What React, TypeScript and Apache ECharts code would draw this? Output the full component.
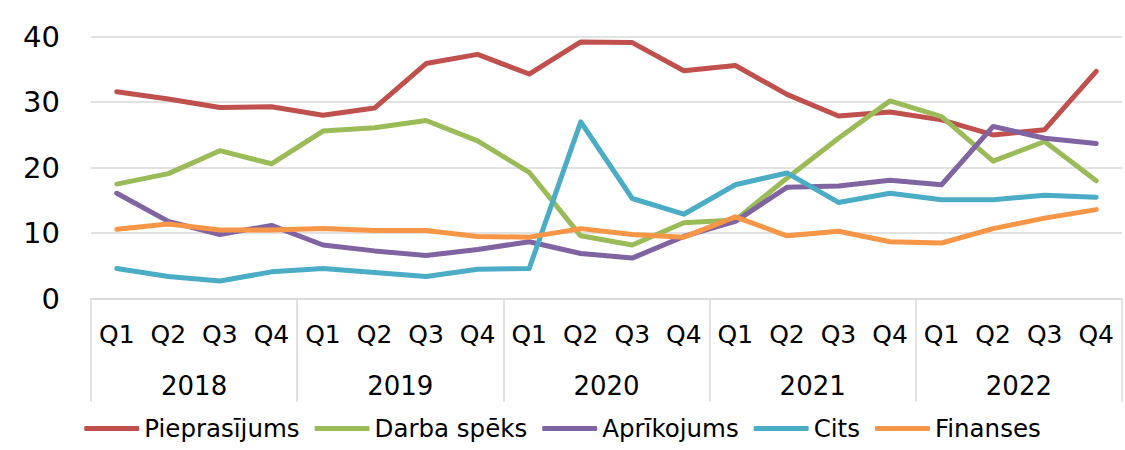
import React, { useEffect, useRef } from "react";
import * as echarts from "echarts";

const quarterLabels = ["Q1", "Q2", "Q3", "Q4", "Q1", "Q2", "Q3", "Q4", "Q1", "Q2", "Q3", "Q4", "Q1", "Q2", "Q3", "Q4", "Q1", "Q2", "Q3", "Q4"];
const years = ["2018", "2019", "2020", "2021", "2022"];
const yTicks = { min: 0, max: 40, interval: 10 };

const pieprasijums = [31.6, 30.5, 29.2, 29.3, 28.0, 29.1, 35.9, 37.3, 34.3, 39.2, 39.1, 34.8, 35.6, 31.2, 27.9, 28.5, 27.3, 25.0, 25.8, 34.7];
const darbaSpeks = [17.5, 19.1, 22.6, 20.6, 25.6, 26.1, 27.2, 24.1, 19.3, 9.6, 8.2, 11.6, 12.0, 18.4, 24.5, 30.2, 27.8, 21.0, 24.0, 18.0];
const aprikojums = [16.1, 11.8, 9.8, 11.2, 8.2, 7.3, 6.6, 7.5, 8.7, 6.9, 6.2, 9.5, 11.8, 17.0, 17.2, 18.1, 17.4, 26.3, 24.5, 23.7];
const cits = [4.6, 3.4, 2.7, 4.1, 4.6, 4.0, 3.4, 4.5, 4.6, 27.0, 15.3, 12.9, 17.4, 19.2, 14.7, 16.1, 15.1, 15.1, 15.8, 15.5];
const finanses = [10.6, 11.4, 10.5, 10.5, 10.7, 10.4, 10.4, 9.5, 9.4, 10.7, 9.8, 9.4, 12.5, 9.6, 10.3, 8.7, 8.5, 10.7, 12.3, 13.6];

const seriesNames = ["Pieprasījums", "Darba spēks", "Aprīkojums", "Cits", "Finanses"];
const seriesData = [pieprasijums, darbaSpeks, aprikojums, cits, finanses];
const colors = ["#C0504D", "#9BBB59", "#8064A2", "#4BACC6", "#F79646"];

const FONT = "DejaVu Sans";
const GRID_COLOR = "#d9d9d9";

export default function App() {
  const ref = useRef<HTMLDivElement>(null);
  useEffect(() => {
    const chart = echarts.init(ref.current!, null, { renderer: "svg" });
    chart.setOption({
      animation: false,
      color: colors,
      textStyle: { fontFamily: FONT },
      grid: { left: 91, right: 3, top: 36.7, bottom: 151.3, containLabel: false },
      legend: {
        top: 411,
        left: "center",
        icon: "roundRect",
        itemWidth: 55,
        itemHeight: 5,
        itemGap: 15,
        textStyle: { fontFamily: FONT, fontSize: 24.5, color: "#000" },
        data: seriesNames,
      },
      xAxis: [
        {
          type: "category",
          data: quarterLabels,
          boundaryGap: true,
          axisLine: { show: true, lineStyle: { color: GRID_COLOR, width: 1.5 } },
          axisTick: { show: false },
          axisLabel: { interval: 0, margin: 23, fontFamily: FONT, fontSize: 25, color: "#000" },
        },
        {
          type: "category",
          data: years,
          position: "bottom",
          offset: 0,
          boundaryGap: true,
          axisLine: { show: false },
          axisTick: { show: true, length: 103, interval: 0, lineStyle: { color: GRID_COLOR, width: 1.5 } },
          axisLabel: { interval: 0, margin: 74, fontFamily: FONT, fontSize: 26, color: "#000" },
        },
      ],
      yAxis: {
        type: "value",
        min: yTicks.min,
        max: yTicks.max,
        interval: yTicks.interval,
        axisLine: { show: false },
        axisTick: { show: false },
        splitLine: { lineStyle: { color: GRID_COLOR, width: 1.5 } },
        axisLabel: { margin: 31, fontFamily: FONT, fontSize: 29, color: "#000" },
      },
      series: seriesNames.map((name, i) => ({
        name,
        type: "line",
        xAxisIndex: 0,
        data: seriesData[i],
        symbol: "none",
        lineStyle: { width: 5, color: colors[i], cap: "round", join: "round" },
        itemStyle: { color: colors[i] },
      })),
    });
    return () => chart.dispose();
  }, []);
  return (
    <div
      ref={ref}
      style={{ position: "absolute", left: 0, top: 0, width: 1125, height: 450, background: "#fff" }}
    />
  );
}
